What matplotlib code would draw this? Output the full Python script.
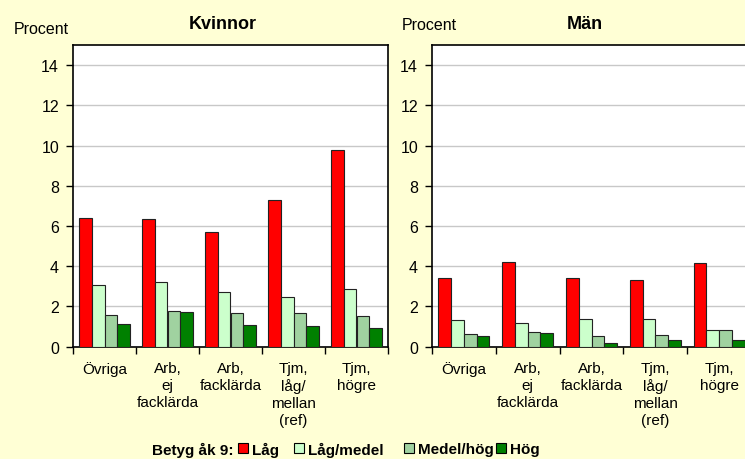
import numpy as np
import matplotlib
matplotlib.use('Agg')
from matplotlib import pyplot as plt
from matplotlib.lines import Line2D

plt.rcParams['font.family'] = ['Liberation Sans', 'DejaVu Sans']

# data
groups = ['Övriga', 'Arb,\nej\nfacklärda', 'Arb,\nfacklärda', 'Tjm,\nlåg/\nmellan\n(ref)', 'Tjm,\nhögre']
series = ['Låg', 'Låg/medel', 'Medel/hög', 'Hög']
colors = ['#FF0000', '#CCFFCC', '#A0D2A0', '#008000']

kvinnor_lag = [6.4, 6.35, 5.72, 7.27, 9.78]
kvinnor_lagmedel = [3.05, 3.2, 2.72, 2.46, 2.85]
kvinnor_medelhog = [1.56, 1.76, 1.66, 1.66, 1.51]
kvinnor_hog = [1.12, 1.71, 1.08, 1.01, 0.91]

man_lag = [3.44, 4.2, 3.44, 3.34, 4.15]
man_lagmedel = [1.31, 1.2, 1.38, 1.38, 0.83]
man_medelhog = [0.61, 0.73, 0.53, 0.58, 0.83]
man_hog = [0.51, 0.66, 0.18, 0.35, 0.35]

bg = '#FFFFD5'
W, H = 745, 460

fig = plt.figure(figsize=(7.45, 4.6), dpi=100, facecolor=bg)


def draw(ax, data, title, title_x):
    x = np.arange(len(groups))
    w = 0.2
    ax.set_axisbelow(True)
    for i, vals in enumerate(data):
        ax.bar(x - 0.3 + i * w, vals, w, color=colors[i], edgecolor='#222222',
               linewidth=0.8, zorder=3)
    ax.set_xlim(-0.5, len(groups) - 0.5)
    ax.set_ylim(0, 15)
    ax.set_yticks(range(0, 15, 2))
    ax.yaxis.grid(True, color='#C8C8C8', linewidth=1.0, zorder=0)
    ax.set_xticks(x)
    ax.set_xticklabels(groups, fontsize=11, linespacing=1.27)
    ax.set_xticks(np.arange(-0.5, len(groups)), minor=True)
    ax.tick_params(axis='x', which='major', length=0, pad=10)
    ax.tick_params(axis='x', which='minor', length=5, width=1, direction='out')
    ax.tick_params(axis='y', length=5, width=1, direction='out', labelsize=11.5, pad=5)
    for s in ax.spines.values():
        s.set_color('black')
        s.set_linewidth(1.2)
    ax.set_facecolor('white')
    ax.set_title(title, fontsize=13, fontweight='bold', pad=12, x=title_x)


ax1 = fig.add_axes([73 / W, 1 - 347.7 / H, 315 / W, 301.7 / H])
draw(ax1, [kvinnor_lag, kvinnor_lagmedel, kvinnor_medelhog, kvinnor_hog], 'Kvinnor', 0.476)

ax2 = fig.add_axes([432 / W, 1 - 347.7 / H, 319 / W, 301.7 / H])
draw(ax2, [man_lag, man_lagmedel, man_medelhog, man_hog], 'Män', 0.48)
ax2.spines['right'].set_visible(False)

fig.text(14 / W, 1 - 29 / H, 'Procent', fontsize=11.5, va='center', ha='left')
fig.text(402 / W, 1 - 26 / H, 'Procent', fontsize=11.5, va='center', ha='left')

# legend, each entry placed where it sits in the original
fig.text(152 / W, 1 - 450 / H, 'Betyg åk 9:', fontsize=11, fontweight='bold',
         va='center', ha='left')
legend_x = [238, 294, 404, 496]
for name, c, lx in zip(series, colors, legend_x):
    h = Line2D([], [], linestyle='none', marker='s', markersize=7,
               markerfacecolor=c, markeredgecolor='black', markeredgewidth=0.8)
    fig.legend([h], [name], loc='center left', bbox_to_anchor=(lx / W, 1 - 450 / H),
               frameon=False, handlelength=0.7, handletextpad=0.2,
               prop={'weight': 'bold', 'size': 11}, borderaxespad=0, borderpad=0)

fig.savefig('out.png', dpi=100, facecolor=bg)
